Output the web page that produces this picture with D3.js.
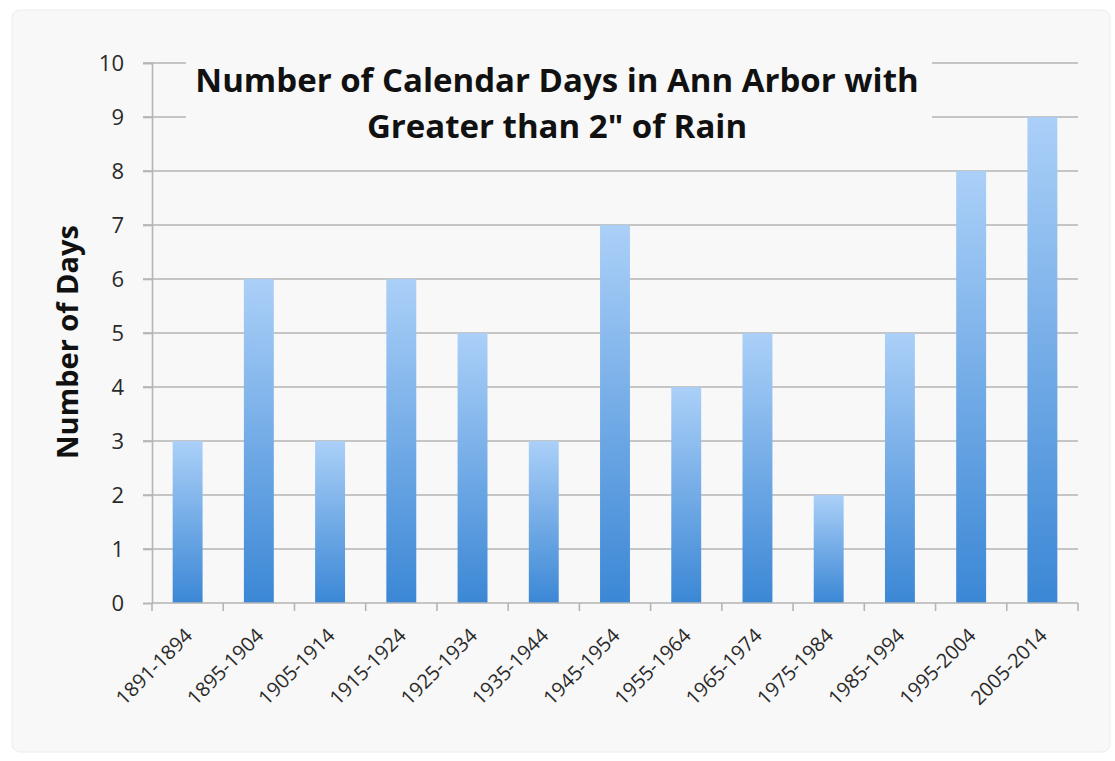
<!DOCTYPE html>
<html>
<head>
<meta charset="utf-8">
<script src="https://cdn.jsdelivr.net/npm/d3@7"></script>
<style>
  body { margin: 0; background: #fff; }
  text { font-family: "Open Sans", "DejaVu Sans", sans-serif; }
</style>
</head>
<body>
<script>
(function () {
  const periods = ['1891-1894', '1895-1904', '1905-1914', '1915-1924', '1925-1934', '1935-1944',
    '1945-1954', '1955-1964', '1965-1974', '1975-1984', '1985-1994', '1995-2004', '2005-2014']
  const days = [3, 6, 3, 6, 5, 3, 7, 4, 5, 2, 5, 8, 9]
  const yTicks = [0, 1, 2, 3, 4, 5, 6, 7, 8, 9, 10]
  const titleLines = ['Number of Calendar Days in Ann Arbor with', 'Greater than 2" of Rain']

  const width = 1115
  const height = 761
  const left = 152, right = 1078, top = 63, bottom = 603

  const svg = d3.select('body').append('svg')
    .attr('width', width)
    .attr('height', height)

  const defs = svg.append('defs')
  const grad = defs.append('linearGradient')
    .attr('id', 'barGrad')
    .attr('x1', 0).attr('y1', 0).attr('x2', 0).attr('y2', 1)
  grad.append('stop').attr('offset', '0%').attr('stop-color', '#abd0f8')
  grad.append('stop').attr('offset', '100%').attr('stop-color', '#3b87d5')

  // panel
  svg.append('rect')
    .attr('x', 12).attr('y', 10)
    .attr('width', 1098).attr('height', 742)
    .attr('rx', 8)
    .attr('fill', '#f8f8f8')
    .attr('stroke', '#ececec')

  const x = d3.scaleBand()
    .domain(periods)
    .range([left, right])
    .paddingInner(0.58)
    .paddingOuter(0.29)

  const y = d3.scaleLinear()
    .domain([0, 10])
    .range([bottom, top])

  // gridlines
  svg.append('g')
    .selectAll('line')
    .data(yTicks.filter(d => d > 0))
    .enter()
    .append('line')
    .attr('x1', left - 9)
    .attr('x2', right)
    .attr('y1', d => y(d))
    .attr('y2', d => y(d))
    .attr('stroke', '#b5b5b5')
    .attr('stroke-width', 1.6)

  // y axis
  const yAxis = svg.append('g')
    .attr('transform', `translate(${left},0)`)
    .call(d3.axisLeft(y).tickValues(yTicks).tickSize(9).tickPadding(19))
  yAxis.select('.domain').attr('stroke', '#b5b5b5').attr('stroke-width', 1.6)
  yAxis.selectAll('.tick line').attr('stroke', '#b5b5b5').attr('stroke-width', 1.6)
  yAxis.selectAll('.tick text')
    .attr('fill', '#2a2a2a')
    .style('font-size', '22px')

  // bars
  svg.append('g')
    .selectAll('rect')
    .data(days)
    .enter()
    .append('rect')
    .attr('x', (d, i) => x(periods[i]))
    .attr('y', d => y(d))
    .attr('width', x.bandwidth())
    .attr('height', d => y(0) - y(d))
    .attr('fill', 'url(#barGrad)')

  // x axis
  const xTicks = d3.range(periods.length + 1).map(i => left + i * x.step())
  const xAxis = svg.append('g')
  xAxis.append('line')
    .attr('x1', left).attr('x2', right)
    .attr('y1', bottom).attr('y2', bottom)
    .attr('stroke', '#b5b5b5').attr('stroke-width', 1.6)
  xAxis.selectAll('line.tk')
    .data(xTicks)
    .enter()
    .append('line')
    .attr('class', 'tk')
    .attr('x1', d => d).attr('x2', d => d)
    .attr('y1', bottom).attr('y2', bottom + 8)
    .attr('stroke', '#b5b5b5').attr('stroke-width', 1.6)

  xAxis.selectAll('text')
    .data(periods)
    .enter()
    .append('text')
    .attr('transform', d => `translate(${x(d) + x.bandwidth() / 2 + 6},${bottom + 34}) rotate(-45)`)
    .attr('text-anchor', 'end')
    .attr('fill', '#2a2a2a')
    .style('font-size', '20px')
    .text(d => d)

  // title box hides the top gridlines
  svg.append('rect')
    .attr('x', 186).attr('y', 56)
    .attr('width', 746).attr('height', 94)
    .attr('fill', '#f8f8f8')

  svg.append('g')
    .selectAll('text')
    .data(titleLines)
    .enter()
    .append('text')
    .attr('x', 557)
    .attr('y', (d, i) => 92 + i * 46)
    .attr('text-anchor', 'middle')
    .attr('font-weight', 'bold')
    .attr('fill', '#111')
    .style('font-size', '33px')
    .text(d => d)

  svg.append('text')
    .attr('transform', 'translate(78,342) rotate(-90)')
    .attr('text-anchor', 'middle')
    .attr('font-weight', 'bold')
    .attr('fill', '#111')
    .style('font-size', '29px')
    .text('Number of Days')
})()
</script>
</body>
</html>
